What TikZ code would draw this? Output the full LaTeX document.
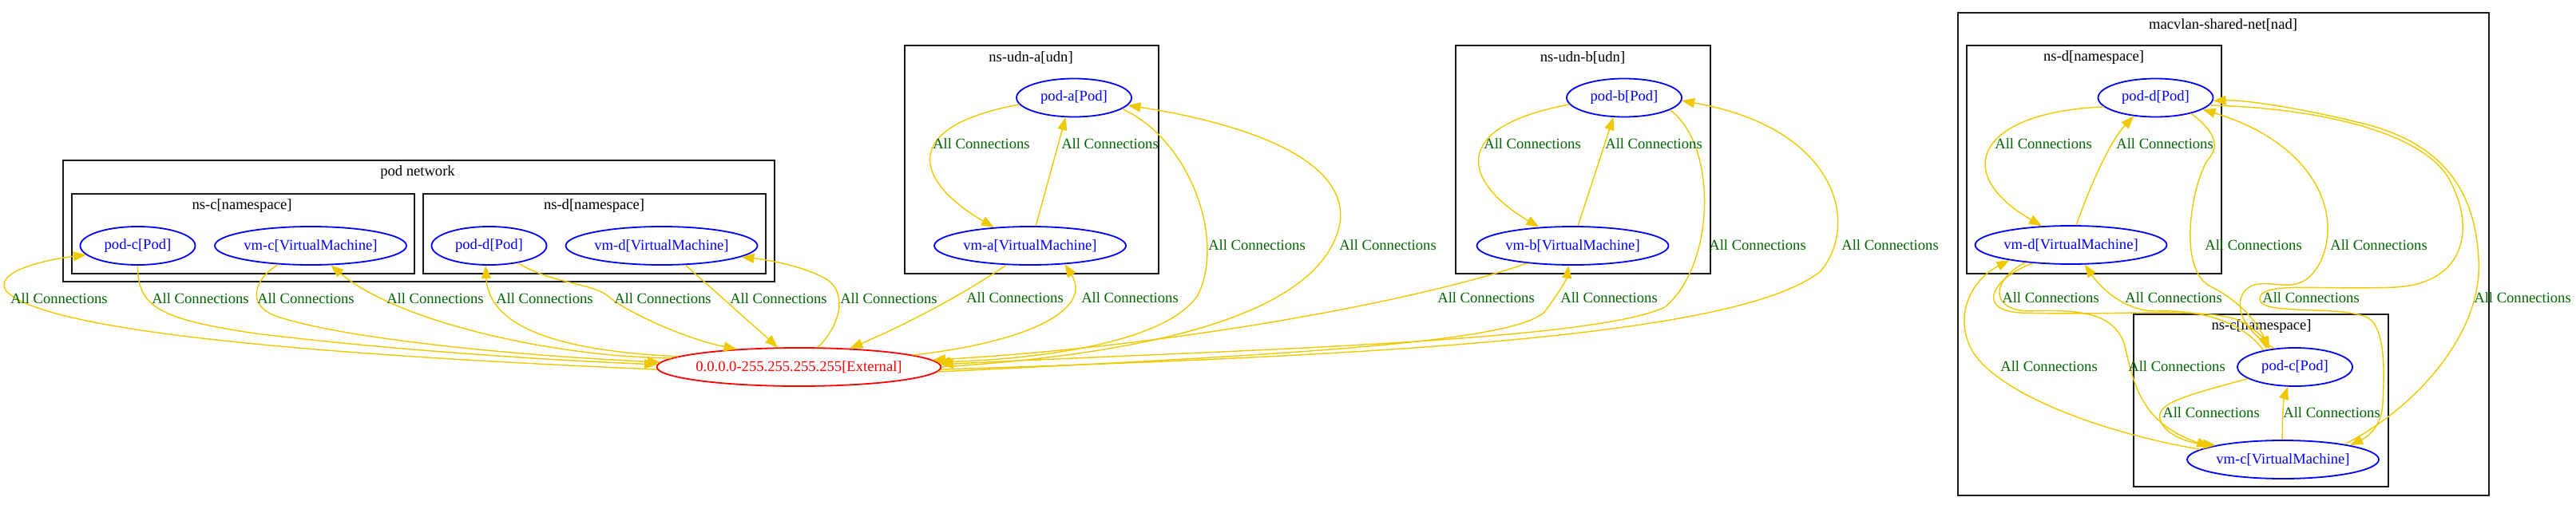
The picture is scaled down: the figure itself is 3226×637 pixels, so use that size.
\documentclass[tikz,border=0pt]{standalone}
\usepackage{fontspec}
\setmainfont{Liberation Serif}
\usetikzlibrary{arrows.meta,shapes.geometric}
\definecolor{edgegold}{HTML}{EEC900}
\definecolor{lblgreen}{HTML}{006400}
\definecolor{nodeblue}{HTML}{0000FF}
\definecolor{extred}{HTML}{FF0000}
\definecolor{frameink}{HTML}{1A1A1A}

\begin{document}
\begin{tikzpicture}[x=0.5pt, y=-0.5pt,
      every node/.style={font=\fontsize{9.3}{11}\selectfont},
      obj/.style={ellipse, draw=nodeblue, text=nodeblue, line width=0.9pt, inner xsep=-3pt, inner ysep=0pt, minimum height=24pt},
      pod/.style={obj, minimum width=72pt},
      vm/.style={obj, minimum width=120pt},
      extnode/.style={obj, draw=extred, text=extred, minimum width=178pt},
      grp/.style={draw=frameink, line width=0.8pt},
      lbl/.style={text=lblgreen},
      arr/.style={-{Triangle[length=8pt,width=6pt]}, color=edgegold, line width=0.7pt}
    ]
    \useasboundingbox (0,0) rectangle (3226,637);

    % clusters
    \draw[grp] (79,201) rectangle (970,353);
    \node (podnet) at (523,216) {pod network};
    \draw[grp] (90,243) rectangle (519,343);
    \node (nsc1) at (303,258) {ns-c[namespace]};
    \draw[grp] (530,243) rectangle (959,343);
    \node (nsd1) at (744,258) {ns-d[namespace]};
    \draw[grp] (1133,57) rectangle (1451,343);
    \node (udna) at (1291,72) {ns-udn-a[udn]};
    \draw[grp] (1823,57) rectangle (2142,343);
    \node (udnb) at (1982,72) {ns-udn-b[udn]};
    \draw[grp] (2452,16) rectangle (3117,621);
    \node (macvlan) at (2784,31) {macvlan-shared-net[nad]};
    \draw[grp] (2463,57) rectangle (2782,343);
    \node (nsd2) at (2622,72) {ns-d[namespace]};
    \draw[grp] (2672,394) rectangle (2991,610);
    \node (nsc2) at (2832,409) {ns-c[namespace]};

    % workloads
    \node[pod] (podc1) at (172.5,308) {pod-c[Pod]};
    \node[vm] (vmc1) at (389,308) {vm-c[VirtualMachine]};
    \node[pod] (podd1) at (612.5,308) {pod-d[Pod]};
    \node[vm] (vmd1) at (828.5,308) {vm-d[VirtualMachine]};
    \node[extnode] (external) at (1000.5,460) {0.0.0.0-255.255.255.255[External]};
    \node[pod] (poda) at (1345,122.5) {pod-a[Pod]};
    \node[vm] (vma) at (1290,308) {vm-a[VirtualMachine]};
    \node[pod] (podb) at (2034,122.5) {pod-b[Pod]};
    \node[vm] (vmb) at (1969.5,308) {vm-b[VirtualMachine]};
    \node[pod] (podd2) at (2699.5,122.5) {pod-d[Pod]};
    \node[vm] (vmd2) at (2593.5,307) {vm-d[VirtualMachine]};
    \node[pod] (podc2) at (2874,460) {pod-c[Pod]};
    \node[vm] (vmc2) at (2859,576) {vm-c[VirtualMachine]};

    % pod network <-> external
    \draw[arr] (external.181) .. controls (450,447) and (60,420) .. (8,365) .. controls (-10,340) and (60,325) .. (podc1.190);
    \draw[arr] (podc1.south) .. controls (172,385) and (200,400) .. (320,418) .. controls (500,440) and (700,452) .. (external.179);
    \draw[arr] (vmc1.210) .. controls (318,350) and (308,382) .. (345,396) .. controls (430,425) and (650,446) .. (external.178);
    \draw[arr] (external.176) .. controls (700,448) and (500,405) .. (vmc1.316);
    \draw[arr] (external.175) .. controls (700,440) and (612,410) .. (podd1.260);
    \draw[arr] (podd1.329) .. controls (690,355) and (740,355) .. (760,370) .. controls (785,392) and (860,425) .. (external.164);
    \draw[arr] (vmd1.321) -- (external.137);
    \draw[arr] (external.46) .. controls (1055,405) and (1060,365) .. (1035,350) .. controls (1010,335) and (965,326) .. (vmd1.352);

    % ns-udn-a
    \draw[arr] (poda.187) .. controls (1120,160) and (1150,230) .. (vma.153);
    \draw[arr] (vma.74) -- (poda.247);
    \draw[arr] (poda.347) .. controls (1490,175) and (1535,300) .. (1500,370) .. controls (1460,430) and (1300,450) .. (external.2);
    \draw[arr] (external.0) .. controls (1520,438) and (1660,370) .. (1678,280) .. controls (1690,200) and (1560,155) .. (poda.352);
    \draw[arr] (vma.219) .. controls (1220,360) and (1150,400) .. (external.20);
    \draw[arr] (external.6) .. controls (1280,430) and (1370,390) .. (vma.332);

    % ns-udn-b
    \draw[arr] (podb.187) .. controls (1810,160) and (1835,230) .. (vmb.151);
    \draw[arr] (vmb.75) -- (podb.241);
    \draw[arr] (podb.345) .. controls (2150,180) and (2150,330) .. (2085,385) .. controls (1990,430) and (1500,440) .. (external.1);
    \draw[arr] (external.359) .. controls (1750,445) and (2180,420) .. (2280,340) .. controls (2330,280) and (2300,160) .. (podb.357);
    \draw[arr] (vmb.201) .. controls (1800,370) and (1500,432) .. (external.3);
    \draw[arr] (external.358) .. controls (1600,445) and (1900,430) .. (1935,390) .. controls (1950,370) and (1962,350) .. (vmb.258);

    % macvlan-shared-net
    \draw[arr] (podd2.190) .. controls (2480,140) and (2440,215) .. (vmd2.147);
    \draw[arr] (vmd2.75) .. controls (2615,240) and (2640,180) .. (podd2.220);
    \draw[arr] (podd2.336) .. controls (2775,165) and (2780,185) .. (2765,200) .. controls (2745,230) and (2725,340) .. (2770,360) .. controls (2800,375) and (2825,400) .. (podc2.145);
    \draw[arr] (podc2.138) .. controls (2800,410) and (2795,370) .. (2820,358) .. controls (2850,348) and (2880,375) .. (2905,330) .. controls (2935,270) and (2900,180) .. (podd2.346);
    \draw[arr] (vmd2.206) .. controls (2500,345) and (2470,388) .. (2530,392) .. controls (2650,396) and (2750,385) .. (2800,400) .. controls (2820,408) and (2835,425) .. (podc2.148);
    \draw[arr] (podc2.152) .. controls (2810,405) and (2760,388) .. (2700,390) .. controls (2660,390) and (2630,360) .. (vmd2.305);
    \draw[arr] (vmd2.201) .. controls (2495,350) and (2490,388) .. (2540,390) .. controls (2600,388) and (2645,390) .. (2660,430) .. controls (2672,480) and (2680,530) .. (vmc2.170);
    \draw[arr] (vmc2.173) .. controls (2620,540) and (2500,490) .. (2470,440) .. controls (2445,395) and (2470,350) .. (vmd2.194);
    \draw[arr] (podc2.194) .. controls (2740,495) and (2700,505) .. (2705,525) .. controls (2710,545) and (2740,555) .. (vmc2.168);
    \draw[arr] (vmc2.92) .. controls (2858,520) and (2860,500) .. (podc2.250);
    \draw[arr] (podd2.352) .. controls (2900,135) and (3040,165) .. (3070,230) .. controls (3100,290) and (3085,355) .. (3000,360) .. controls (2900,364) and (2830,352) .. (2830,375) .. controls (2830,396) and (2930,382) .. (2965,398) .. controls (2990,412) and (2985,480) .. (2984,505) .. controls (2983,530) and (2970,545) .. (vmc2.12);
    \draw[arr] (vmc2.14) .. controls (3020,515) and (3110,420) .. (3104,325) .. controls (3100,240) and (3060,180) .. (2960,155) .. controls (2880,135) and (2810,125) .. (podd2.357);

    % edge labels
    \node[lbl] (l1) at (74,374) {All Connections};
    \node[lbl] (l2) at (251,374) {All Connections};
    \node[lbl] (l3) at (383,374) {All Connections};
    \node[lbl] (l4) at (545,374) {All Connections};
    \node[lbl] (l5) at (682,374) {All Connections};
    \node[lbl] (l6) at (830,374) {All Connections};
    \node[lbl] (l7) at (975,374) {All Connections};
    \node[lbl] (l8) at (1113,374) {All Connections};
    \node[lbl] (l9) at (1229,180) {All Connections};
    \node[lbl] (l10) at (1390,180) {All Connections};
    \node[lbl] (l11) at (1574,307) {All Connections};
    \node[lbl] (l12) at (1738,307) {All Connections};
    \node[lbl] (l13) at (1271,373) {All Connections};
    \node[lbl] (l14) at (1415,373) {All Connections};
    \node[lbl] (l15) at (1919,180) {All Connections};
    \node[lbl] (l16) at (2071,180) {All Connections};
    \node[lbl] (l17) at (2201,307) {All Connections};
    \node[lbl] (l18) at (2367,307) {All Connections};
    \node[lbl] (l19) at (1861,373) {All Connections};
    \node[lbl] (l20) at (2015,373) {All Connections};
    \node[lbl] (l21) at (2559,180) {All Connections};
    \node[lbl] (l22) at (2711,180) {All Connections};
    \node[lbl] (l23) at (2822,307) {All Connections};
    \node[lbl] (l24) at (2979,307) {All Connections};
    \node[lbl] (l25) at (2568,373) {All Connections};
    \node[lbl] (l26) at (2722,373) {All Connections};
    \node[lbl] (l27) at (2726,459) {All Connections};
    \node[lbl] (l28) at (2566,459) {All Connections};
    \node[lbl] (l29) at (2769,517) {All Connections};
    \node[lbl] (l30) at (2920,517) {All Connections};
    \node[lbl] (l31) at (2894,373) {All Connections};
    \node[lbl] (l32) at (3159,373) {All Connections};
  \end{tikzpicture}
\end{document}
